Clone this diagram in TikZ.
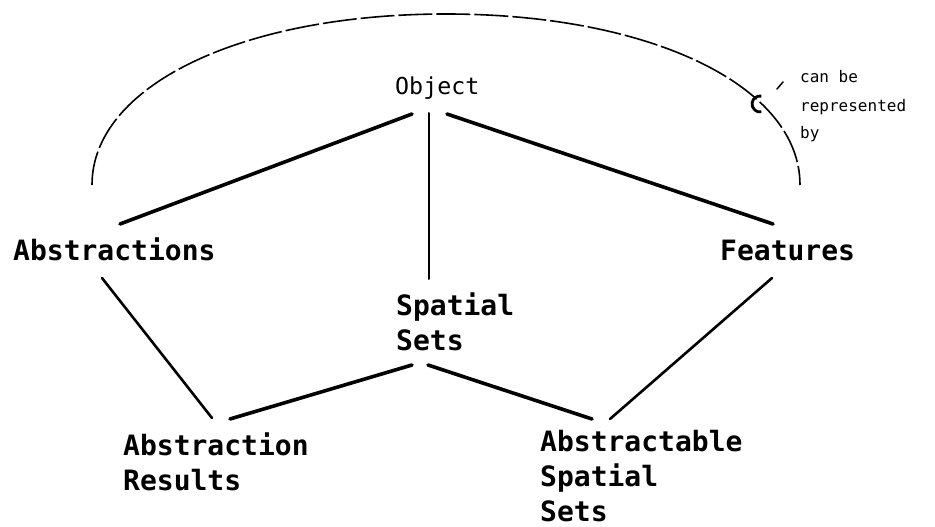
\documentclass[tikz,border=0pt]{standalone}
\usepackage{fontspec}
\newfontfamily\plotfont{DejaVu Sans Mono}
\begin{document}
\begin{tikzpicture}[x=1pt,y=-1pt,
  lbl/.style={font=\plotfont\bfseries\fontsize{28}{35}\selectfont, inner sep=0, anchor=base west, align=left},
  objlbl/.style={font=\plotfont\fontsize{23.3}{28}\selectfont, inner sep=0, anchor=base west},
  note/.style={font=\plotfont\fontsize{16}{28}\selectfont, inner sep=0, anchor=base west, align=left},
  heavy/.style={line width=3.6pt, line cap=round},
  medium/.style={line width=2.6pt, line cap=round},
  light/.style={line width=2pt, line cap=round},
  scope arc/.style={line width=1.6pt, dash pattern=on 34pt off 4pt},
  relsym/.style={line width=2.8pt}
]
\useasboundingbox (0,0) rectangle (935,527);
% labels (base anchor = baseline of the last line)
\node[objlbl] (obj) at (395,95) {Object};
\node[lbl] (abs) at (13,260) {Abstractions};
\node[lbl] (feat) at (720,260) {Features};
\node[lbl] (ss) at (396,350) {Spatial\\Sets};
\node[lbl] (ar) at (123,490) {Abstraction\\Results};
\node[lbl] (ass) at (540,521) {Abstractable\\Spatial\\Sets};
\node[note] (rep) at (800,139) {can be\\represented\\by};
% connector end points
\coordinate (objL) at (412,114);
\coordinate (objM) at (429,113);
\coordinate (objR) at (447,114);
\coordinate (absT) at (120,224);
\coordinate (absB) at (102,278);
\coordinate (featT) at (773,224);
\coordinate (featB) at (772,278);
\coordinate (ssT) at (429,279);
\coordinate (ssBL) at (412,365);
\coordinate (ssBR) at (428,365);
\coordinate (arTL) at (212,418);
\coordinate (arTR) at (230,419);
\coordinate (assTL) at (592,419);
\coordinate (assTR) at (610,419);
\coordinate (arcL) at (92,185);
\coordinate (arcTop) at (446,14);
\coordinate (arcR) at (800,185);
\coordinate (symC) at (760,104);
\coordinate (tickA) at (777,89);
\coordinate (tickB) at (783,82);
% connectors
\draw[heavy] (objL) -- (absT);
\draw[light] (objM) -- (ssT);
\draw[heavy] (objR) -- (featT);
\draw[medium] (absB) -- (arTL);
\draw[heavy] (ssBL) -- (arTR);
\draw[heavy] (ssBR) -- (assTL);
\draw[medium] (featB) -- (assTR);
% "can be represented by" arc
\draw[scope arc] (arcL) .. controls (92,86) and (241,14) .. (arcTop)
  .. controls (651,14) and (800,86) .. (arcR);
\draw[relsym] ([shift={(1.4,-7.9)}]symC) arc[start angle=-80, end angle=-280, radius=8];
\draw[light, line width=1.5pt] (tickA) -- (tickB);
\end{tikzpicture}
\end{document}
